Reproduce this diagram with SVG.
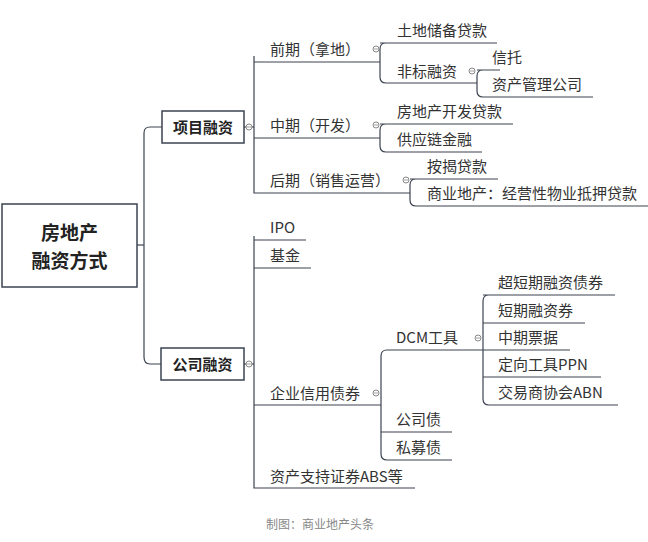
<svg xmlns="http://www.w3.org/2000/svg" width="648" height="542" viewBox="0 0 648 542">
<style>
text{font-family:"Noto Sans CJK SC","Noto Sans",sans-serif;fill:#333;font-size:15px}
.b{font-weight:bold;fill:#222}
.big{font-size:19px}
.ft{font-size:12px;fill:#888}
.ln{fill:none;stroke:#3c4450;stroke-width:1.2}
.box{fill:#fff;stroke:#3c4450;stroke-width:1.5}
.c{fill:#fff;stroke:#888;stroke-width:1}
</style>
<rect width="648" height="542" fill="#fff"/>
<g id="connectors" class="ln">
<path d="M137 245H144"/>
<path d="M162 127H150Q144 127 144 133V357Q144 364 150 364H161"/>
<path d="M244 127H254"/>
<path d="M254 56V193H410"/>
<path d="M254 62H380"/><path d="M254 138H380"/>
<path d="M380 43H497M386 43Q380 43 380 49V77Q380 83 386 83H477"/>
<path d="M477 70H500M483 70Q477 70 477 76V91Q477 97 483 97H593"/>
<path d="M380 124H513M386 124Q380 124 380 130V146Q380 152 386 152H482"/>
<path d="M410 179H498M416 179Q410 179 410 185V200Q410 206 416 206H648"/>
<path d="M244 364H254"/>
<path d="M254 236V488H415"/>
<path d="M254 240H306"/><path d="M254 268H311"/><path d="M254 405H381"/>
<path d="M387 350H570M387 350Q381 350 381 356V454Q381 460 387 460H452"/>
<path d="M381 432H452"/>
<path d="M483 295H615M489 295Q483 295 483 301V399Q483 405 489 405H618"/>
<path d="M483 323H585"/><path d="M483 377H601"/>
</g>
<defs><g id="m"><circle class="c" r="3"/><path d="M-2 0H2" stroke="#888" stroke-width="0.8"/></g></defs>
<g id="markers">
<use href="#m" x="249" y="127"/><use href="#m" x="249" y="364"/>
<use href="#m" x="376" y="49"/><use href="#m" x="376" y="125"/>
<use href="#m" x="406" y="180"/><use href="#m" x="472" y="71"/>
<use href="#m" x="376" y="393"/><use href="#m" x="478" y="338"/>
</g>
<g id="root"><rect class="box" x="2" y="204" width="135" height="83"/>
<text class="b big" x="69.5" y="240" text-anchor="middle">房地产</text>
<text class="b big" x="69.5" y="268" text-anchor="middle">融资方式</text></g>
<g id="xm"><rect class="box" x="162" y="111" width="82" height="32"/><text class="b" x="203" y="133" text-anchor="middle">项目融资</text></g>
<g id="gs"><rect class="box" x="161" y="348" width="83" height="32"/><text class="b" x="202.5" y="370" text-anchor="middle">公司融资</text></g>
<g id="qq"><text x="270" y="55">前期（拿地）</text></g>
<g id="zq"><text x="270" y="131">中期（开发）</text></g>
<g id="hq"><text x="270" y="186">后期（销售运营）</text></g>
<g id="n1"><text x="397" y="36">土地储备贷款</text></g>
<g id="n2"><text x="397" y="77">非标融资</text></g>
<g id="n3"><text x="492" y="63">信托</text></g>
<g id="n4"><text x="492" y="90">资产管理公司</text></g>
<g id="n5"><text x="397" y="117">房地产开发贷款</text></g>
<g id="n6"><text x="397" y="145">供应链金融</text></g>
<g id="n7"><text x="427" y="172">按揭贷款</text></g>
<g id="n8"><text x="427" y="199">商业地产：经营性物业抵押贷款</text></g>
<g id="ipo"><text x="270" y="233">IPO</text></g>
<g id="jj"><text x="270" y="261">基金</text></g>
<g id="qy"><text x="270" y="399">企业信用债券</text></g>
<g id="abs"><text x="270" y="482">资产支持证券ABS等</text></g>
<g id="dcm"><text x="396" y="343">DCM工具</text></g>
<g id="gsz"><text x="396" y="425">公司债</text></g>
<g id="smz"><text x="396" y="453">私募债</text></g>
<g id="d1"><text x="498" y="288">超短期融资债券</text></g>
<g id="d2"><text x="498" y="316">短期融资券</text></g>
<g id="d3"><text x="498" y="343">中期票据</text></g>
<g id="d4"><text x="498" y="370">定向工具PPN</text></g>
<g id="d5"><text x="498" y="398">交易商协会ABN</text></g>
<text class="ft" x="266" y="529">制图：商业地产头条</text>
</svg>
